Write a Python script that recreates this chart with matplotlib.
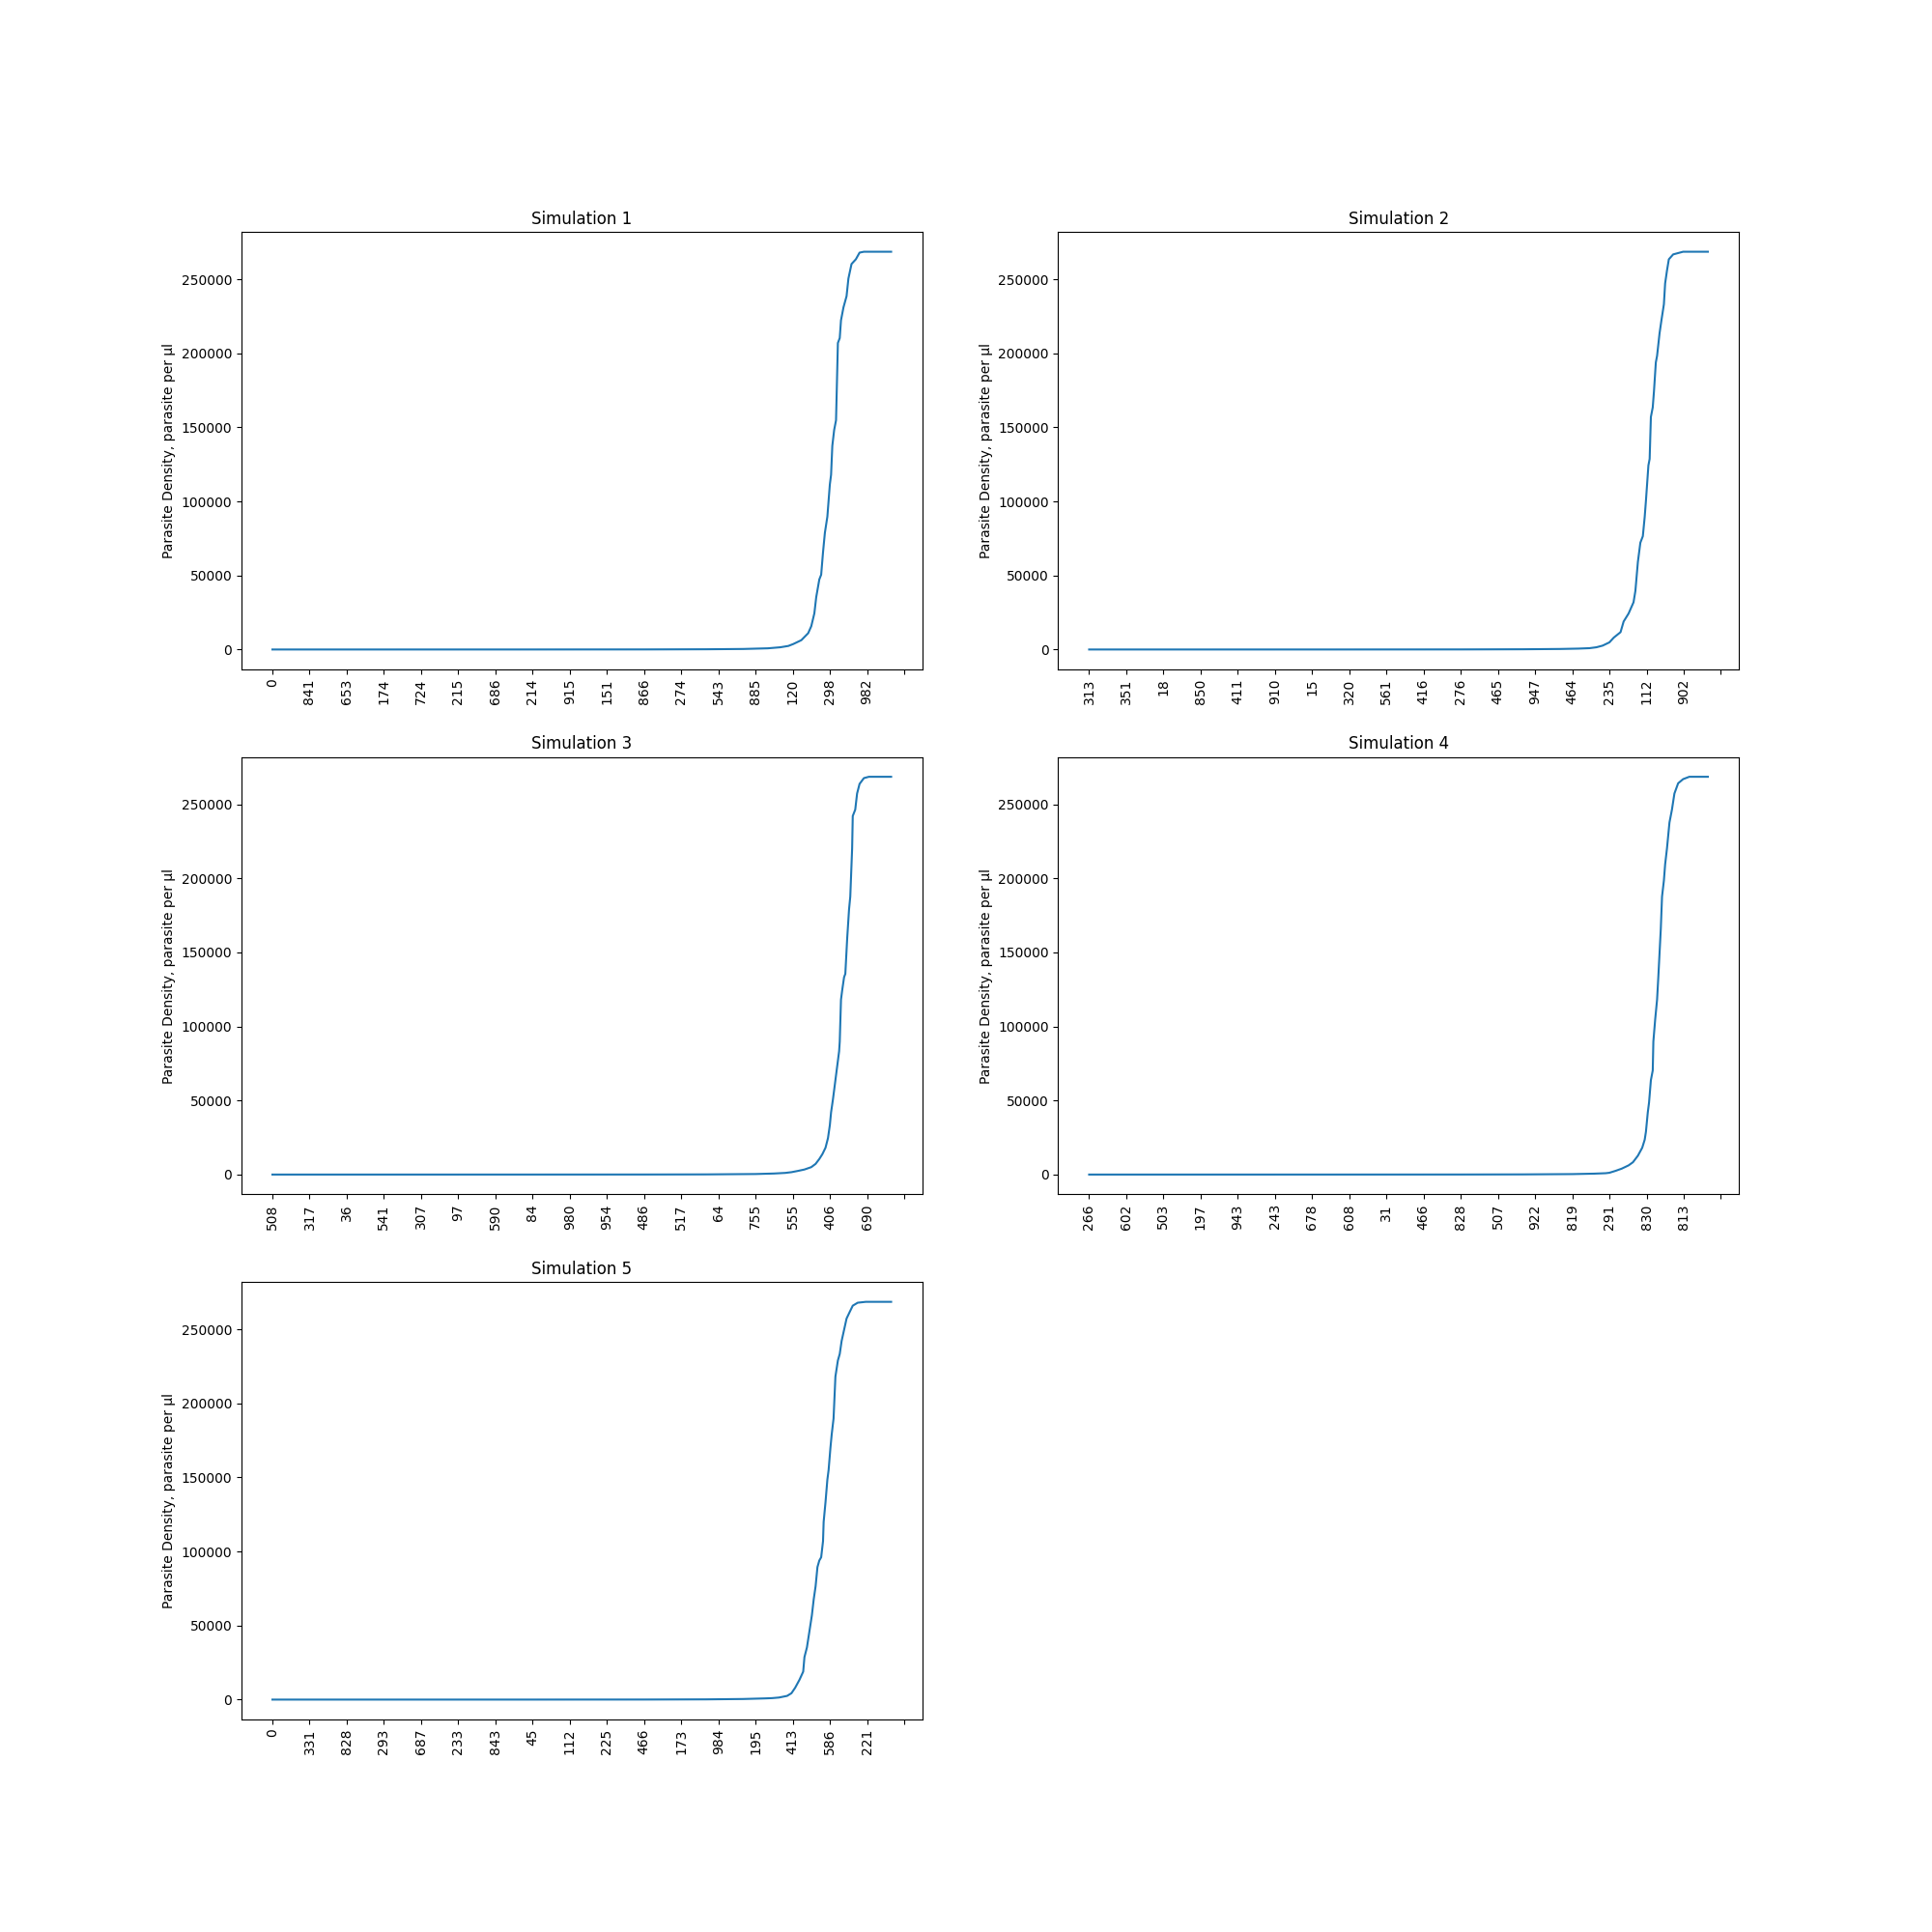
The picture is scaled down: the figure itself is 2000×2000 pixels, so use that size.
import matplotlib
matplotlib.use("Agg")
import matplotlib.pyplot as plt

# day index and parasite density
sim1_x = [0, 200, 400, 600, 700, 760, 800, 820, 833, 841, 854, 865, 870, 875, 878, 883, 886, 889, 892, 896,
          900, 902, 904, 907, 910, 913, 916, 918, 922, 927, 930, 935, 942, 948, 955, 999]
sim1_y = [0, 0, 5, 40, 150, 350, 800, 1500, 2400, 3700, 6300, 11000, 15700, 24400, 35300, 47300, 50500, 65700,
          78800, 89700, 111400, 118000, 137500, 148300, 154800, 207000, 210300, 222300, 231000, 238600, 250500,
          260300, 263500, 268000, 268600, 268600]

sim2_x = [0, 200, 400, 600, 700, 760, 790, 808, 819, 829, 840, 847, 858, 863, 871, 879, 882, 886, 890, 894,
          897, 899, 903, 905, 907, 910, 912, 915, 917, 921, 924, 928, 930, 933, 936, 943, 959, 999]
sim2_y = [0, 0, 5, 40, 150, 350, 600, 900, 1500, 2600, 4800, 8000, 11700, 18900, 24300, 31900, 39600, 59100,
          72100, 76500, 89500, 100400, 124300, 128700, 157000, 163500, 174400, 193900, 198300, 213500, 222200,
          233100, 247200, 255900, 263500, 266800, 268600, 268600]

sim3_x = [0, 200, 400, 600, 700, 780, 810, 828, 838, 849, 859, 870, 877, 883, 888, 893, 897, 900, 902, 905,
          907, 911, 915, 916, 918, 920, 923, 925, 928, 931, 933, 936, 937, 941, 944, 948, 955, 963, 999]
sim3_y = [0, 0, 5, 30, 100, 350, 700, 1100, 1600, 2500, 3400, 5000, 7200, 10500, 13800, 18100, 24600, 33300,
          42000, 50700, 57200, 70300, 83300, 89800, 118100, 124600, 133300, 135500, 159400, 179000, 187700,
          220300, 242100, 246400, 257300, 263800, 267700, 268600, 268600]

sim4_x = [0, 200, 400, 600, 700, 780, 815, 834, 840, 850, 860, 871, 878, 886, 893, 897, 899, 902, 904, 907,
          910, 911, 914, 917, 919, 923, 925, 928, 930, 933, 937, 941, 945, 951, 959, 969, 999]
sim4_y = [0, 0, 5, 30, 100, 300, 600, 900, 1200, 2500, 4000, 6200, 8300, 12700, 18100, 23500, 28900, 42000,
          48500, 63700, 70300, 89800, 105000, 118100, 133300, 165800, 187700, 198500, 209400, 220300, 237700,
          246400, 257300, 264200, 267000, 268600, 268600]

sim5_x = [0, 200, 400, 600, 700, 760, 795, 807, 818, 831, 838, 844, 851, 857, 859, 863, 867, 871, 874, 877,
          880, 883, 886, 889, 890, 893, 896, 898, 901, 903, 906, 909, 913, 916, 919, 923, 927, 932, 937, 945,
          958, 999]
sim5_y = [0, 0, 5, 40, 150, 400, 800, 1000, 1400, 2500, 4300, 8000, 13400, 18900, 28700, 35200, 46000, 56900,
          67800, 76500, 89500, 93900, 96100, 107000, 120000, 133300, 148500, 155000, 170200, 179000, 189800,
          218100, 229000, 233400, 242100, 249700, 257300, 261700, 266000, 268000, 268600, 268600]

# tick labels shown every 60 days
labels1 = ["0", "841", "653", "174", "724", "215", "686", "214", "915", "151", "866", "274", "543", "885",
           "120", "298", "982"]
labels2 = ["313", "351", "18", "850", "411", "910", "15", "320", "561", "416", "276", "465", "947", "464",
           "235", "112", "902"]
labels3 = ["508", "317", "36", "541", "307", "97", "590", "84", "980", "954", "486", "517", "64", "755",
           "555", "406", "690"]
labels4 = ["266", "602", "503", "197", "943", "243", "678", "608", "31", "466", "828", "507", "922", "819",
           "291", "830", "813"]
labels5 = ["0", "331", "828", "293", "687", "233", "843", "45", "112", "225", "466", "173", "984", "195",
           "413", "586", "221"]

sims = [(sim1_x, sim1_y, labels1), (sim2_x, sim2_y, labels2), (sim3_x, sim3_y, labels3),
        (sim4_x, sim4_y, labels4), (sim5_x, sim5_y, labels5)]

fig, axes = plt.subplots(3, 2, figsize=(20, 20), dpi=100)
axes = axes.flatten()

tick_pos = list(range(0, 1021, 60))

for i, (x, y, labels) in enumerate(sims):
    ax = axes[i]
    ax.plot(x, y)
    ax.set_xticks(tick_pos)
    ax.set_xticklabels(labels + [""], rotation=90)
    ax.set_title("Simulation {}".format(i + 1))
    ax.set_ylabel("Parasite Density, parasite per µl")

axes[5].remove()

plt.savefig("out.png")
